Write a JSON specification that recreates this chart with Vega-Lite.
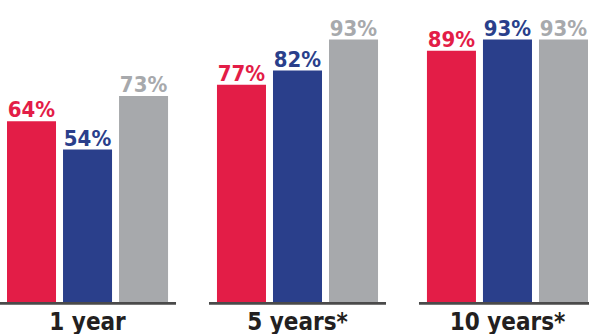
{
  "$schema": "https://vega.github.io/schema/vega-lite/v6.json",
  "width": 589,
  "height": 302,
  "padding": {"top": 0, "left": 0, "right": 0, "bottom": 32},
  "autosize": {"type": "none"},
  "background": "white",
  "config": {"view": {"stroke": null}},
  "datasets": {
    "bars": [
      {"group": "1 year", "series": "Series 1", "value": 0.64},
      {"group": "1 year", "series": "Series 2", "value": 0.54},
      {"group": "1 year", "series": "Series 3", "value": 0.73},
      {"group": "5 years*", "series": "Series 1", "value": 0.77},
      {"group": "5 years*", "series": "Series 2", "value": 0.82},
      {"group": "5 years*", "series": "Series 3", "value": 0.93},
      {"group": "10 years*", "series": "Series 1", "value": 0.89},
      {"group": "10 years*", "series": "Series 2", "value": 0.93},
      {"group": "10 years*", "series": "Series 3", "value": 0.93}
    ],
    "groups": [
      {"group": "1 year"},
      {"group": "5 years*"},
      {"group": "10 years*"}
    ]
  },
  "layer": [
    {
      "data": {"name": "groups"},
      "mark": {"type": "bar", "color": "#4a4a4a"},
      "encoding": {
        "x": {
          "field": "group", "type": "nominal", "sort": null,
          "scale": {"range": [-1, 596], "paddingInner": 0.157, "paddingOuter": 0},
          "axis": null
        },
        "y": {"datum": 0, "type": "quantitative", "scale": {"domain": [0, 1.07]}, "axis": null},
        "y2": {"datum": -0.01}
      }
    },
    {
      "data": {"name": "bars"},
      "encoding": {
        "x": {
          "field": "group", "type": "nominal", "sort": null,
          "scale": {"range": [7, 588], "paddingInner": 0.233, "paddingOuter": 0},
          "axis": {
            "title": null, "domain": false, "ticks": false, "labelAngle": 0,
            "labelFontSize": 24, "labelFontWeight": "bold", "labelColor": "#231f20",
            "labelFont": "DejaVu Sans Condensed, Liberation Sans Narrow, sans-serif",
            "labelPadding": 8
          }
        },
        "xOffset": {"field": "series", "type": "nominal", "scale": {"paddingInner": 0.125, "paddingOuter": 0}},
        "y": {"field": "value", "type": "quantitative", "scale": {"domain": [0, 1.07]}, "axis": null},
        "color": {
          "field": "series", "type": "nominal", "legend": null,
          "scale": {"domain": ["Series 1", "Series 2", "Series 3"], "range": ["#e31d47", "#2a3f8b", "#a7a9ac"]}
        }
      },
      "layer": [
        {"mark": {"type": "bar"}},
        {
          "mark": {
            "type": "text", "baseline": "alphabetic", "dy": -4, "fontSize": 22, "fontWeight": "bold",
            "font": "DejaVu Sans Condensed, Liberation Sans Narrow, sans-serif"
          },
          "encoding": {"text": {"field": "value", "type": "quantitative", "format": ".0%"}}
        }
      ]
    }
  ],
  "resolve": {"scale": {"x": "independent"}}
}
